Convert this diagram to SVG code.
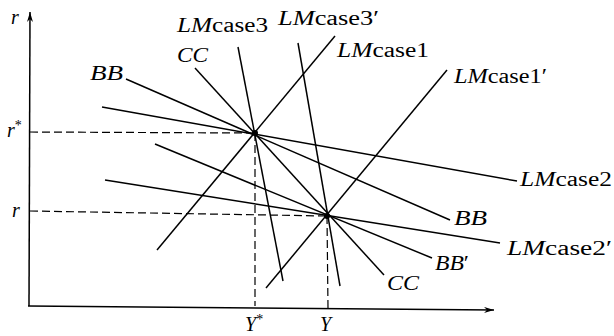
<svg xmlns="http://www.w3.org/2000/svg" width="614" height="336" viewBox="0 0 614 336">
<defs>
<style>
.ln{stroke:#000;stroke-width:1.5;fill:none}
.ds{stroke:#000;stroke-width:1.2;fill:none;stroke-dasharray:8 4}
.t{font-family:'Liberation Serif','Times New Roman','DejaVu Serif',serif;font-size:20px;fill:#000}
.i{font-style:italic}
</style>
<marker id="ar" viewBox="0 0 10 6" refX="10" refY="3" markerWidth="10" markerHeight="6" markerUnits="userSpaceOnUse" orient="auto">
<path d="M0,0 L10,3 L0,6 L3,3 Z" fill="#000"/>
</marker>
</defs>
<rect width="614" height="336" fill="#fff"/>
<g id="axes">
<line class="ln" x1="29" y1="306" x2="30" y2="12" marker-end="url(#ar)"/>
<line class="ln" x1="28" y1="306" x2="494" y2="310" marker-end="url(#ar)"/>
<text class="t i" x="11" y="24">r</text>
<text class="t" x="7" y="137"><tspan class="i">r</tspan><tspan dy="-7" font-size="14">*</tspan></text>
<text class="t i" x="12" y="217">r</text>
<text class="t" x="245" y="331"><tspan class="i">Y</tspan><tspan dy="-7" font-size="14">*</tspan></text>
<text class="t i" x="320" y="331">Y</text>
</g>
<g id="connectors">
<line class="ds" x1="30" y1="132" x2="255" y2="133"/>
<line class="ds" x1="255" y1="133" x2="255" y2="306"/>
<line class="ds" x1="30" y1="211" x2="327" y2="216"/>
<line class="ds" x1="327" y1="216" x2="328" y2="308"/>
</g>
<g id="BB"><line class="ln" x1="126" y1="79" x2="450" y2="220"/>
<text class="t i" x="90" y="80" textLength="33" lengthAdjust="spacingAndGlyphs">BB</text>
<text class="t i" x="454" y="225" textLength="33" lengthAdjust="spacingAndGlyphs">BB</text></g>
<g id="BBp"><line class="ln" x1="155" y1="144" x2="432" y2="258"/>
<text class="t" x="435" y="270" textLength="34" lengthAdjust="spacingAndGlyphs"><tspan class="i">BB</tspan>′</text></g>
<g id="CC"><line class="ln" x1="195" y1="68" x2="384" y2="275"/>
<text class="t i" x="177" y="62" textLength="31" lengthAdjust="spacingAndGlyphs">CC</text>
<text class="t i" x="387" y="290" textLength="32" lengthAdjust="spacingAndGlyphs">CC</text></g>
<g id="LMcase3"><line class="ln" x1="238" y1="47" x2="283" y2="281"/>
<text class="t" x="177" y="32" textLength="91" lengthAdjust="spacingAndGlyphs"><tspan class="i">LM</tspan>case3</text></g>
<g id="LMcase3p"><line class="ln" x1="298" y1="43" x2="340" y2="286"/>
<text class="t" x="278" y="25" textLength="101" lengthAdjust="spacingAndGlyphs"><tspan class="i">LM</tspan>case3′</text></g>
<g id="LMcase1"><line class="ln" x1="157" y1="250" x2="335" y2="36"/>
<text class="t" x="337" y="57" textLength="92" lengthAdjust="spacingAndGlyphs"><tspan class="i">LM</tspan>case1</text></g>
<g id="LMcase1p"><line class="ln" x1="266" y1="288" x2="447" y2="70"/>
<text class="t" x="454" y="83" textLength="93" lengthAdjust="spacingAndGlyphs"><tspan class="i">LM</tspan>case1′</text></g>
<g id="LMcase2"><line class="ln" x1="102" y1="107" x2="517" y2="181"/>
<text class="t" x="520" y="186" textLength="92" lengthAdjust="spacingAndGlyphs"><tspan class="i">LM</tspan>case2</text></g>
<g id="LMcase2p"><line class="ln" x1="105" y1="180" x2="500" y2="243"/>
<text class="t" x="507" y="255" textLength="105" lengthAdjust="spacingAndGlyphs"><tspan class="i">LM</tspan>case2′</text></g>
<g id="E1"><circle cx="255" cy="133" r="3" fill="#000"/></g>
<g id="E2"><circle cx="327" cy="216" r="3" fill="#000"/></g>
</svg>
